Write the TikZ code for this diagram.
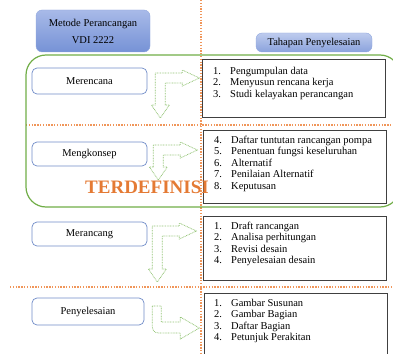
\documentclass[tikz,border=0pt]{standalone}
\usepackage{fontspec}
\setmainfont{Liberation Serif}
\usetikzlibrary{positioning}
\definecolor{stageblue}{RGB}{112,140,200}
\definecolor{headtop}{RGB}{168,186,232}
\definecolor{headbot}{RGB}{118,146,214}
\definecolor{listgrey}{RGB}{64,64,64}
\definecolor{guideorange}{RGB}{240,150,90}
\definecolor{framegreen}{RGB}{112,173,71}
\definecolor{arrowgreen}{RGB}{145,195,115}
\definecolor{textorange}{RGB}{228,122,52}

\begin{document}
\begin{tikzpicture}[x=1pt,y=-1pt,
      stage/.style={
         rectangle,
         rounded corners=5pt,
         draw=stageblue,
         fill=white,
         line width=0.7pt,
         minimum width=115pt,
         minimum height=24pt,
         inner sep=0pt,
         font=\fontsize{10.5}{12}\selectfont
      },
      header/.style={
         rectangle,
         rounded corners=6pt,
         draw=headbot!80,
         top color=headtop,
         bottom color=headbot,
         inner sep=0pt,
         align=center
      },
      listbox/.style={
         rectangle,
         draw=listgrey,
         fill=white,
         line width=0.9pt,
         minimum width=183pt,
         inner sep=0pt,
         anchor=north west
      },
      listtext/.style={
         anchor=north west,
         align=left,
         inner sep=0pt,
         font=\fontsize{10.5}{11.5}\selectfont
      },
      guide/.style={draw=guideorange, line width=1.1pt, dash pattern=on 1.3pt off 1.5pt},
      frame/.style={draw=framegreen, line width=1.2pt, rounded corners=20pt},
      arrowline/.style={draw=arrowgreen, dash pattern=on 0.8pt off 0.8pt, line width=0.75pt, fill=white},
      bentarrow/.pic={
         \draw[arrowline] (0,0) -- (27,0) -- (27,-3) -- (44,5) -- (27,13) -- (27,10)
            -- (10,10) -- (10,{#1-13}) -- (14,{#1-13}) -- (5,#1) -- (-4,{#1-13})
            -- (0,{#1-13}) -- cycle;
      },
      turnarrow/.pic={
         \draw[arrowline] (0,0) -- (9,0) -- (9,16) -- (28,16) -- (28,11) -- (47,22)
            -- (28,33) -- (28,27) [rounded corners=6pt] -- (0,27) [sharp corners] -- cycle;
      }
    ]
    \useasboundingbox (0,0) rectangle (393,353);
    \clip (0,0) rectangle (393,353);

    % guide lines
    \draw[guide] (201,0) -- (201,353);
    \draw[guide] (26,125) -- (393,125);
    \draw[guide] (10,287) -- (393,287);

    \draw[frame] (26,55) rectangle (400,207);

    % headings
    \node (vdi) [header, minimum width=114pt, minimum height=42pt,
       font=\fontsize{10.5}{17}\selectfont] at (93,31) {Metode Perancangan\\VDI 2222};
    \node (tahap) [header, minimum width=116pt, minimum height=19pt,
       top color=headtop!75, bottom color=headbot!85,
       font=\fontsize{10.5}{12}\selectfont] at (314,42.5) {Tahapan Penyelesaian};

    % stages
    \node (mer) [stage, minimum height=26pt] at (89.5,81) {Merencana};
    \node (mkon) [stage] at (89.5,154) {Mengkonsep};
    \node (mrcg) [stage] at (89.5,234) {Merancang};
    \node (peny) [stage, minimum width=112pt, minimum height=27pt] at (88,311.5) {Penyelesaian};

    % lists
    \node (list1) [listbox, minimum height=58pt] at (202,59) {};
    \node (list2) [listbox, minimum height=73pt] at (203,130) {};
    \node (list3) [listbox, minimum height=64pt] at (203,216) {};
    \node (list4) [listbox, minimum height=70pt] at (204,293) {};

    \node (list1txt) [listtext] at ([xshift=11pt,yshift=-8pt]list1.north west) {
       \makebox[17pt][l]{1.}Pengumpulan data\\
       \makebox[17pt][l]{2.}Menyusun rencana kerja\\
       \makebox[17pt][l]{3.}Studi kelayakan perancangan};
    \node (list2txt) [listtext] at ([xshift=11pt,yshift=-5.5pt]list2.north west) {
       \makebox[17pt][l]{4.}Daftar tuntutan rancangan pompa\\
       \makebox[17pt][l]{5.}Penentuan fungsi keseluruhan\\
       \makebox[17pt][l]{6.}Alternatif\\
       \makebox[17pt][l]{7.}Penilaian Alternatif\\
       \makebox[17pt][l]{8.}Keputusan};
    \node (list3txt) [listtext] at ([xshift=11pt,yshift=-5.5pt]list3.north west) {
       \makebox[17pt][l]{1.}Draft rancangan\\
       \makebox[17pt][l]{2.}Analisa perhitungan\\
       \makebox[17pt][l]{3.}Revisi desain\\
       \makebox[17pt][l]{4.}Penyelesaian desain};
    \node (list4txt) [listtext] at ([xshift=10pt,yshift=-6pt]list4.north west) {
       \makebox[17pt][l]{1.}Gambar Susunan\\
       \makebox[17pt][l]{2.}Gambar Bagian\\
       \makebox[17pt][l]{3.}Daftar Bagian\\
       \makebox[17pt][l]{4.}Petunjuk Perakitan};

    % arrows
    \path (mer.east) ++(8,-8) pic {bentarrow=45};
    \path (mkon.east) ++(6,-9) pic {bentarrow=35};
    \path (mrcg.east) ++(5,-8) pic {bentarrow=56};
    \path (peny.east) ++(8,-5.5) pic {turnarrow};

    \node (terdef) [anchor=base west, inner sep=0pt, text=textorange,
       font=\fontsize{19}{20}\selectfont\bfseries] at (85,193) {TERDEFINISI};
\end{tikzpicture}
\end{document}
